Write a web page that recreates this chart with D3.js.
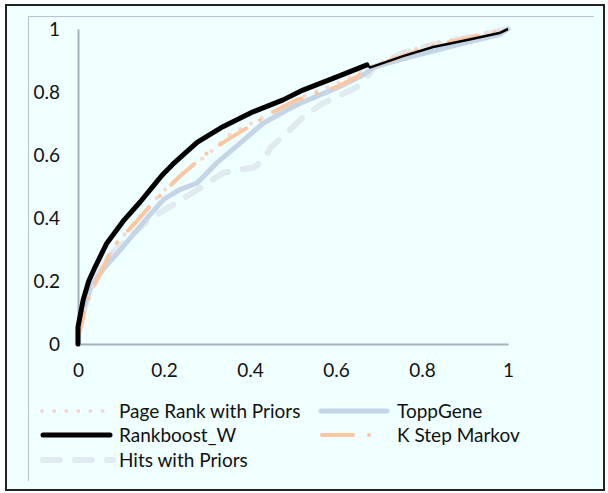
<!DOCTYPE html>
<html lang="en">
<head>
<meta charset="UTF-8">
<script src="https://d3js.org/d3.v7.min.js"></script>
<style>
    body { margin: 0; padding: 0; background: #ffffff; }
    svg text { font-family: Lato, "Open Sans", sans-serif; fill: #111; }
</style>
</head>
<body>
<div id="chart"></div>
<script>
    // ROC curves (false positive rate / true positive rate)
    var seriesNames = ["Page Rank with Priors", "ToppGene", "Rankboost_W", "K Step Markov", "Hits with Priors"];

    var pageRankFpr = [0, 0, 0.01, 0.025, 0.05, 0.085, 0.14, 0.18, 0.24, 0.295, 0.353, 0.43, 0.47, 0.52, 0.6, 0.68, 0.756, 0.826, 0.905, 1];
    var pageRankTpr = [0, 0.03, 0.08, 0.15, 0.22, 0.31, 0.40, 0.46, 0.54, 0.594, 0.665, 0.72, 0.75, 0.785, 0.825, 0.88, 0.925, 0.955, 0.975, 1];

    var toppGeneFpr = [0, 0, 0.01, 0.03, 0.06, 0.098, 0.13, 0.167, 0.2, 0.237, 0.277, 0.323, 0.377, 0.43, 0.486, 0.523, 0.602, 0.663, 0.69, 0.756, 0.826, 0.905, 0.98, 1];
    var toppGeneTpr = [0, 0.04, 0.1, 0.18, 0.24, 0.298, 0.35, 0.41, 0.46, 0.49, 0.511, 0.575, 0.638, 0.70, 0.743, 0.768, 0.813, 0.854, 0.88, 0.905, 0.93, 0.958, 0.982, 1];

    var rankboostFpr = [0, 0, 0.012, 0.025, 0.04, 0.067, 0.105, 0.144, 0.18, 0.195, 0.22, 0.277, 0.337, 0.407, 0.477, 0.523, 0.602, 0.672, 0.68, 0.756, 0.826, 0.905, 0.98, 1];
    var rankboostTpr = [0, 0.054, 0.14, 0.2, 0.245, 0.32, 0.39, 0.45, 0.51, 0.535, 0.57, 0.64, 0.69, 0.737, 0.775, 0.806, 0.848, 0.886, 0.878, 0.914, 0.943, 0.965, 0.987, 1];

    var kStepFpr = [0, 0, 0.009, 0.02, 0.044, 0.081, 0.137, 0.174, 0.235, 0.30, 0.347, 0.43, 0.463, 0.509, 0.602, 0.649, 0.68, 0.756, 0.826, 0.905, 1];
    var kStepTpr = [0, 0.02, 0.067, 0.13, 0.203, 0.308, 0.39, 0.448, 0.53, 0.606, 0.648, 0.717, 0.743, 0.775, 0.816, 0.848, 0.878, 0.915, 0.948, 0.97, 1];

    var hitsFpr = [0, 0, 0.01, 0.028, 0.05, 0.08, 0.121, 0.165, 0.207, 0.277, 0.337, 0.37, 0.41, 0.435, 0.447, 0.486, 0.523, 0.57, 0.602, 0.649, 0.672, 0.69, 0.756, 0.826, 0.905, 1];
    var hitsTpr = [0, 0.03, 0.09, 0.17, 0.23, 0.29, 0.34, 0.395, 0.43, 0.489, 0.543, 0.553, 0.56, 0.59, 0.622, 0.67, 0.72, 0.765, 0.784, 0.816, 0.848, 0.88, 0.925, 0.95, 0.972, 1];

    var tickValues = [0, 0.2, 0.4, 0.6, 0.8, 1];
    var tickLabels = ["0", "0.2", "0.4", "0.6", "0.8", "1"];

    function zip(xs, ys) {
        return xs.map(function (x, i) { return { x: x, y: ys[i] }; });
    }

    var styles = {
        "Page Rank with Priors": { color: "#f5d8d3", width: 4, dash: "0.1,12", data: zip(pageRankFpr, pageRankTpr) },
        "ToppGene": { color: "#c5d5e8", width: 5, dash: null, data: zip(toppGeneFpr, toppGeneTpr) },
        "Rankboost_W": { color: "#000000", width: 5, dash: null, data: zip(rankboostFpr, rankboostTpr) },
        "K Step Markov": { color: "#fbc7a0", width: 4, dash: "31,16,0.1,16", data: zip(kStepFpr, kStepTpr) },
        "Hits with Priors": { color: "#e0eaf1", width: 6, dash: "17,15", data: zip(hitsFpr, hitsTpr) }
    };

    var W = 608, H = 493, fontSize = "19px";
    var svg = d3.select("#chart").append("svg")
        .attr("width", W)
        .attr("height", H);

    // chart area + outer border
    svg.append("rect")
        .attr("x", 6).attr("y", 5)
        .attr("width", 598).attr("height", 485)
        .attr("fill", "#f0ffff")
        .attr("stroke", "#222")
        .attr("stroke-width", 2);

    // plot-area frame (only top and left show)
    svg.append("line").attr("x1", 28).attr("x2", 594).attr("y1", 16.5).attr("y2", 16.5)
        .attr("stroke", "#b5c3d4").attr("stroke-width", 1);
    svg.append("line").attr("x1", 28.5).attr("x2", 28.5).attr("y1", 16).attr("y2", 481)
        .attr("stroke", "#b5c3d4").attr("stroke-width", 1);

    var x = d3.scaleLinear().domain([0, 1]).range([78, 508]);
    var y = d3.scaleLinear().domain([0, 1]).range([344, 29]);

    // axes
    var xAxis = svg.append("g")
        .attr("transform", "translate(0," + y(0) + ")")
        .call(d3.axisBottom(x).tickValues(tickValues).tickSize(0).tickPadding(20)
            .tickFormat(function (d, i) { return tickLabels[i]; }));
    var yAxis = svg.append("g")
        .attr("transform", "translate(" + x(0) + ",0)")
        .call(d3.axisLeft(y).tickValues(tickValues).tickSize(0).tickPadding(18)
            .tickFormat(function (d, i) { return tickLabels[i]; }));
    [xAxis, yAxis].forEach(function (a) {
        a.select(".domain").attr("stroke", "#a3b0c6").attr("stroke-width", 2);
        a.selectAll("text").style("font-family", "Lato, sans-serif").style("font-size", fontSize).attr("fill", "#111");
    });

    var line = d3.line()
        .x(function (d) { return x(d.x); })
        .y(function (d) { return y(d.y); });

    // draw order: light ones under, black on top
    var drawOrder = ["Hits with Priors", "ToppGene", "Page Rank with Priors", "K Step Markov", "Rankboost_W"];
    var curves = svg.append("g");
    curves.selectAll("path")
        .data(drawOrder)
        .enter()
        .append("path")
        .attr("d", function (d) {
            // Rankboost_W thins out to fine steps after its last heavy stretch
            var pts = styles[d].data;
            if (d === "Rankboost_W") pts = pts.filter(function (p) { return p.x <= 0.672; });
            return line(pts);
        })
        .attr("fill", "none")
        .attr("stroke", function (d) { return styles[d].color; })
        .attr("stroke-width", function (d) { return styles[d].width; })
        .attr("stroke-dasharray", function (d) { return styles[d].dash; })
        .attr("stroke-linecap", "round")
        .attr("stroke-linejoin", "round");
    curves.append("path")
        .attr("d", line(styles["Rankboost_W"].data.filter(function (p) { return p.x >= 0.672; })))
        .attr("fill", "none")
        .attr("stroke", "#000")
        .attr("stroke-width", 2.5)
        .attr("stroke-linejoin", "round");

    // legend (Excel fills rows left to right)
    var legendPos = [
        { name: "Page Rank with Priors", x0: 42, x1: 105, tx: 119, y: 411 },
        { name: "ToppGene", x0: 321, x1: 387, tx: 397, y: 411 },
        { name: "Rankboost_W", x0: 43, x1: 110, tx: 119, y: 435 },
        { name: "K Step Markov", x0: 322, x1: 372, tx: 397, y: 435 },
        { name: "Hits with Priors", x0: 43, x1: 113, tx: 119, y: 460 }
    ];
    var leg = svg.append("g").selectAll("g")
        .data(legendPos)
        .enter()
        .append("g");
    leg.append("line")
        .attr("x1", function (d) { return d.x0; })
        .attr("x2", function (d) { return d.x1; })
        .attr("y1", function (d) { return d.y; })
        .attr("y2", function (d) { return d.y; })
        .attr("stroke", function (d) { return styles[d.name].color; })
        .attr("stroke-width", function (d) { return styles[d.name].width; })
        .attr("stroke-dasharray", function (d) { return styles[d.name].dash; })
        .attr("stroke-linecap", "round");
    leg.append("text")
        .attr("x", function (d) { return d.tx; })
        .attr("y", function (d) { return d.y; })
        .attr("dy", "0.35em")
        .style("font-size", fontSize)
        .text(function (d) { return d.name; });
</script>
</body>
</html>
